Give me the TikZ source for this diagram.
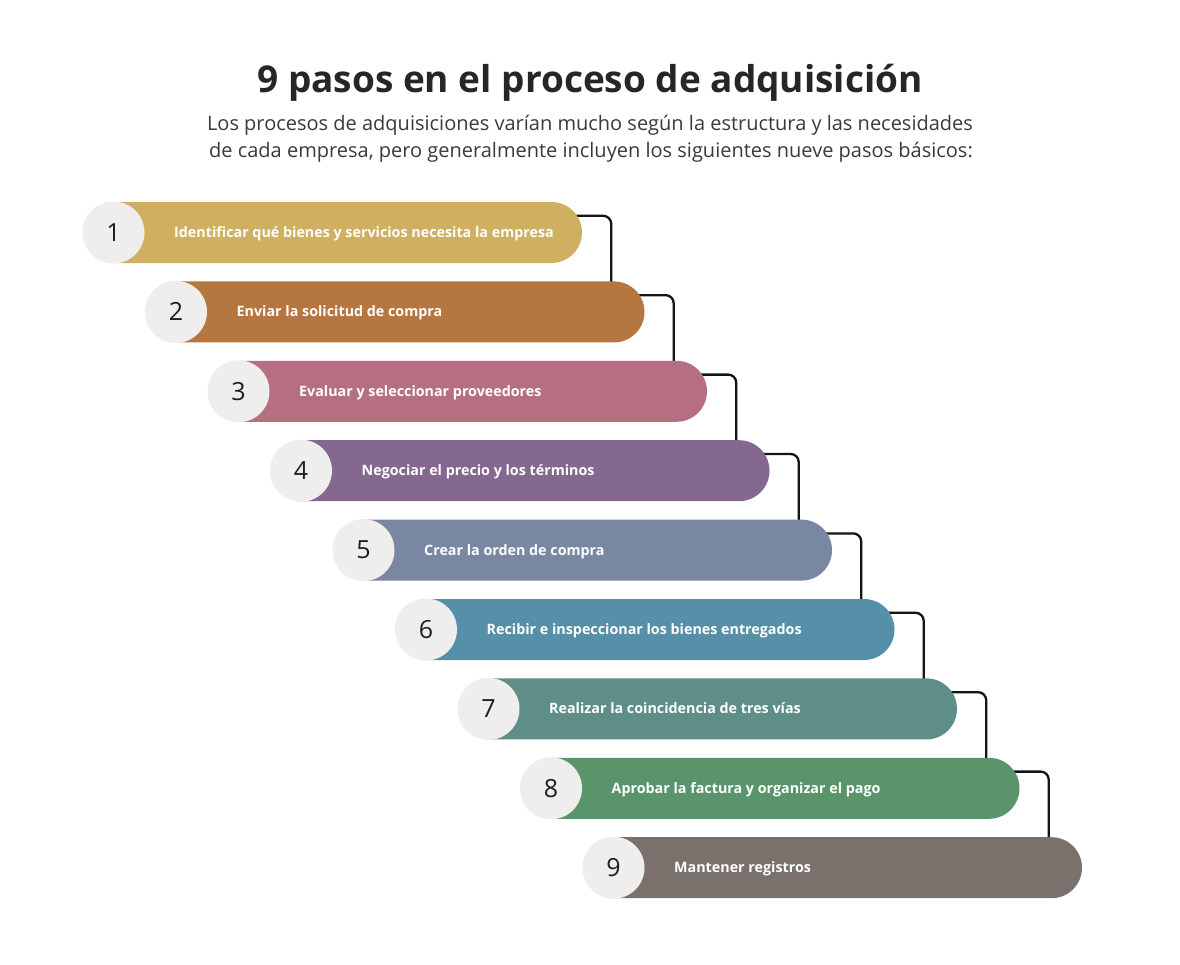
\documentclass[tikz,border=0pt]{standalone}
\usepackage{fontspec}
\setmainfont{Open Sans}
\usetikzlibrary{shapes.misc,calc}
\pgfdeclarelayer{bg}
\pgfsetlayers{bg,main}
\definecolor{c1}{HTML}{CFB061}
\definecolor{c2}{HTML}{B57640}
\definecolor{c3}{HTML}{B56F80}
\definecolor{c4}{HTML}{84688F}
\definecolor{c5}{HTML}{7A87A3}
\definecolor{c6}{HTML}{5690A8}
\definecolor{c7}{HTML}{5F8E89}
\definecolor{c8}{HTML}{5A946B}
\definecolor{c9}{HTML}{7A716C}
\definecolor{numfill}{HTML}{EFEEEC}
\definecolor{numtext}{HTML}{1E1E1E}
\definecolor{titlecol}{HTML}{262626}
\definecolor{subcol}{HTML}{3A3A3A}
\begin{document}
\begin{tikzpicture}[x=1pt,y=-1pt,
  bar/.style={rounded rectangle, rounded rectangle left arc=none,
    minimum width=468.5pt, minimum height=61pt, inner sep=0pt, draw=none},
  num/.style={circle, fill=numfill, minimum size=62pt, inner sep=0pt,
    font=\fontsize{25}{25}\selectfont, text=numtext},
  lbl/.style={anchor=base west, text=white, inner sep=0pt,
    font=\fontsize{14.3}{14.3}\selectfont\bfseries},
  conn/.style={draw=black!92, line width=2.3pt, rounded corners=8pt}]
\begin{pgfonlayer}{bg}
\fill[white] (0,0) rectangle (1180,964);
\end{pgfonlayer}
\useasboundingbox (0,0) rectangle (1180,964);
\node[font=\fontsize{37}{37}\selectfont\bfseries, text=titlecol, anchor=base, inner sep=0pt]
  (title) at (590,92) {9 pasos en el proceso de adquisición};
\node[font=\fontsize{20}{20}\selectfont, text=subcol, anchor=base, inner sep=0pt]
  (sub1) at (590,130) {Los procesos de adquisiciones varían mucho según la estructura y las necesidades};
\node[font=\fontsize{20}{20}\selectfont, text=subcol, anchor=base, inner sep=0pt]
  (sub2) at (591,157) {de cada empresa, pero generalmente incluyen los siguientes nueve pasos básicos:};
\foreach \i/\t in {1/{Identificar qué bienes y servicios necesita la empresa},
  2/{Enviar la solicitud de compra},
  3/{Evaluar y seleccionar proveedores},
  4/{Negociar el precio y los términos},
  5/{Crear la orden de compra},
  6/{Recibir e inspeccionar los bienes entregados},
  7/{Realizar la coincidencia de tres vías},
  8/{Aprobar la factura y organizar el pago},
  9/{Mantener registros}}{
  \pgfmathsetmacro\cx{113.5+62.5*(\i-1)}
  \pgfmathsetmacro\cy{232.5+79.4*(\i-1)}
  \node[bar, fill=c\i] (b\i) at (\cx+234.25,\cy) {};
  \node[num] (n\i) at (\cx,\cy) {\i};
  \node[lbl] (t\i) at (\cx+60.5,\cy+5) {\t};
}
\begin{pgfonlayer}{bg}
\foreach \i [evaluate=\i as \j using int(\i+1)] in {1,...,8}
  \draw[conn] ($(b\i.east |- b\i.north)+(-12,14)$) -| ($(b\i.east |- b\j.north)+(29,2)$);
\end{pgfonlayer}
\end{tikzpicture}
\end{document}
